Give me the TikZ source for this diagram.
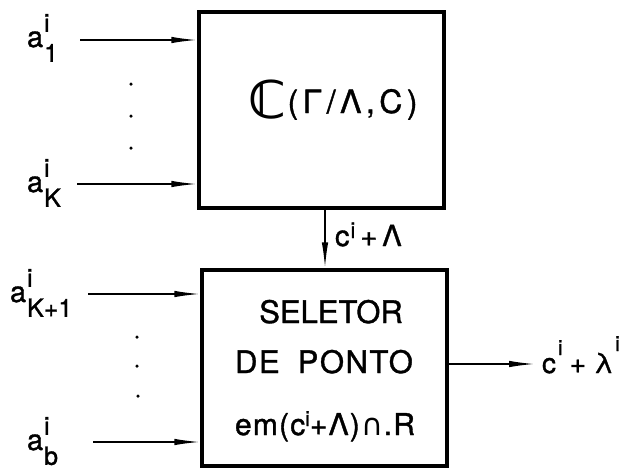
\documentclass[tikz,border=0pt]{standalone}
\usepackage{fontspec}
\setmainfont{TeX Gyre Heros}[FakeBold=1.2]
\newfontfamily\dvs{DejaVu Sans}
\newfontfamily\mf{TeX Gyre Heros}[FakeBold=1.2]
\usetikzlibrary{arrows.meta}
\newcommand{\lab}[3]{\fontsize{29}{29}\selectfont #1\kern1pt\fontsize{25}{30}\selectfont\begin{tabular}[c]{@{}l@{}}#2\\#3\end{tabular}}
\tikzset{
  box/.style={draw, line width=3.5pt, minimum width=245pt, minimum height=196pt, inner sep=0pt},
  arr/.style={line width=1.6pt, -{Latex[length=26pt,width=6.5pt]}},
  txt/.style={inner sep=0pt, outer sep=0pt, font=\mf},
  dot/.style={circle, fill, inner sep=0pt, minimum size=3.5pt}
}
\begin{document}
\begin{tikzpicture}[x=1pt,y=-1pt]
\useasboundingbox (0,0) rectangle (643,474);
% boxes
\node[box] (top) at (321.5,110) {};
\node[box] (bot) at (324.5,368) {};
% top box text
\node[txt, anchor=base] (ttop) at (333,113) {\raisebox{-5pt}{\dvs\bfseries\fontsize{52}{52}\selectfont ℂ}\kern1pt\fontsize{32}{32}\selectfont\addfontfeature{LetterSpace=14}(Γ/Λ,C)};
% bottom box text
\node[txt, anchor=base] (sel) at (331,323) {\fontsize{31}{31}\selectfont SELETOR};
\node[txt, anchor=base] (dep) at (324,373) {\fontsize{31}{31}\selectfont\addfontfeature{LetterSpace=5}DE\hspace{18pt}PONTO};
\node[txt, anchor=base] (em) at (325,435) {\fontsize{30}{30}\selectfont\addfontfeature{LetterSpace=4}em(c\raisebox{9pt}{\fontsize{21}{21}\selectfont i}+Λ)\kern2pt{\dvs\fontsize{30}{30}\selectfont ∩}.R};
% input labels
\node[txt, anchor=base west] (l1) at (27,47) {\lab{a}{i}{1}};
\node[txt, anchor=base west] (lK) at (27,192) {\lab{a}{i}{K}};
\node[txt, anchor=base west] (lK1) at (10,302) {\lab{a}{i}{K+1}};
\node[txt, anchor=base west] (lb) at (27,450) {\lab{a}{i}{b}};
% input arrows
\coordinate (s1) at (80,40);
\coordinate (sK) at (77,184);
\coordinate (sK1) at (88,294);
\coordinate (sb) at (93,442);
\draw[arr] (s1) -- (s1 -| top.west);
\draw[arr] (sK) -- (sK -| top.west);
\draw[arr] (sK1) -- (sK1 -| bot.west);
\draw[arr] (sb) -- (sb -| bot.west);
% dots
\node[dot] (d1) at (131,84) {};
\node[dot] (d2) at (131,116) {};
\node[dot] (d3) at (131,148) {};
\node[dot] (d4) at (137,337) {};
\node[dot] (d5) at (137,366) {};
\node[dot] (d6) at (138,396) {};
% connection between boxes
\coordinate (v1) at (325,208);
\draw[arr] (v1) -- (v1 |- bot.north);
\node[txt, anchor=base west] (cl) at (335,246) {\fontsize{29}{29}\selectfont c\kern1pt\raisebox{8pt}{\fontsize{22}{22}\selectfont i}\kern5pt+\kern5ptΛ};
% output
\coordinate (o1) at (447,364);
\coordinate (o2) at (535,364);
\draw[arr] (bot.east |- o1) -- (o2);
\node[txt, anchor=base west] (out) at (542,373) {\fontsize{28}{28}\selectfont c\kern2pt\raisebox{18pt}{\fontsize{21}{21}\selectfont i}\kern7pt+\kern8ptλ\kern2pt\raisebox{22pt}{\fontsize{21}{21}\selectfont i}};
\end{tikzpicture}
\end{document}
